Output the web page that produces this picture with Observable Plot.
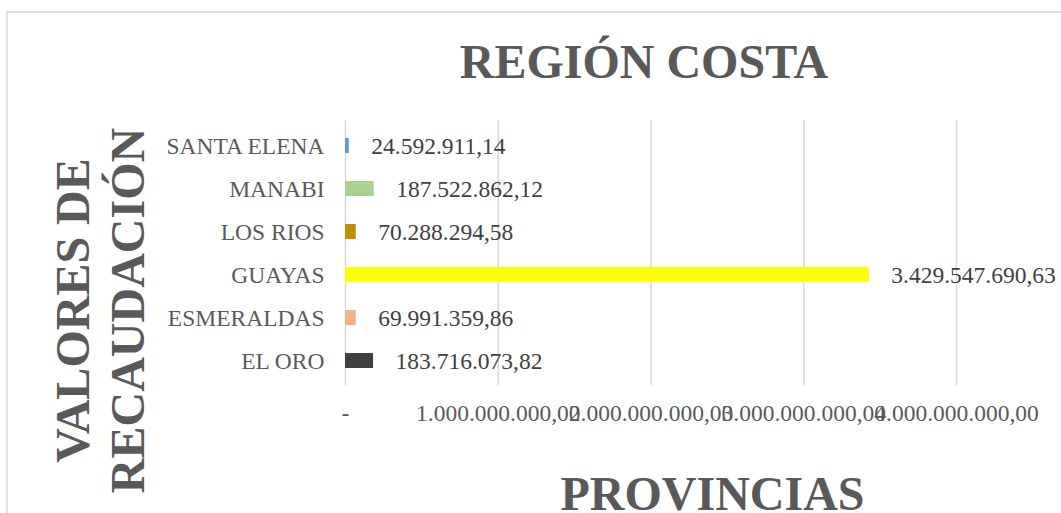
<!DOCTYPE html>
<html><head><meta charset="utf-8">
<script src="https://cdn.jsdelivr.net/npm/d3@7"></script>
<script src="https://cdn.jsdelivr.net/npm/@observablehq/plot@0.6"></script>
<style>
body{margin:0;background:#fff;}
#chart{position:relative;width:1061px;height:513px;overflow:hidden;}
</style>
</head><body><div id="chart"></div>
<script>
const provinces = ["SANTA ELENA", "MANABI", "LOS RIOS", "GUAYAS", "ESMERALDAS", "EL ORO"];
const values = [24592911.14, 187522862.12, 70288294.58, 3429547690.63, 69991359.86, 183716073.82];
const colors = ["#5B9BD5", "#A9D18E", "#BF8F00", "#FFFF00", "#F4B183", "#404040"];
const valueLabels = ["24.592.911,14", "187.522.862,12", "70.288.294,58", "3.429.547.690,63", "69.991.359,86", "183.716.073,82"];
const xTicks = [0, 1e9, 2e9, 3e9, 4e9];
const xTickLabels = ["-", "1.000.000.000,00", "2.000.000.000,00", "3.000.000.000,00", "4.000.000.000,00"];
const titleText = "REGIÓN COSTA";
const xTitleText = "PROVINCIAS";
const yTitleText = "VALORES DE\nRECAUDACIÓN";

const data = provinces.map((p, i) => ({p, v: values[i], c: colors[i], label: valueLabels[i]}));
const serif = "'Liberation Serif', 'Times New Roman', serif";

const chart = Plot.plot({
  width: 1061, height: 513,
  marginLeft: 345, marginRight: 105, marginTop: 120, marginBottom: 128,
  style: {fontFamily: serif, fontSize: "23.5px", color: "#595959", background: "transparent"},
  x: {domain: [0, 4e9], label: null},
  y: {domain: provinces, paddingInner: 0.66, paddingOuter: 0.35, label: null},
  color: {type: "identity"},
  marks: [
    Plot.ruleX(xTicks, {stroke: "#D9D9D9", strokeWidth: 1.5}),
    Plot.barX(data, {x: "v", y: "p", fill: "c"}),
    Plot.text(data, {x: "v", y: "p", text: "label", textAnchor: "start", dx: 22, fill: "#404040", fontSize: 23.5}),
    Plot.axisX({ticks: xTicks, tickFormat: (d) => xTickLabels[xTicks.indexOf(d)], tickSize: 0, tickPadding: 19, fontSize: 23.5, fill: "#595959"}),
    Plot.axisY({tickSize: 0, tickPadding: 21, fontSize: 23.5, fill: "#595959"}),
    Plot.text([titleText], {frameAnchor: "top", dx: -7, dy: -43, lineAnchor: "bottom", fontSize: 48, fontWeight: "bold", fill: "#595959"}),
    Plot.text([xTitleText], {frameAnchor: "bottom", dx: 61.5, dy: 124, lineAnchor: "bottom", fontSize: 48, fontWeight: "bold", fill: "#595959"}),
    Plot.text([yTitleText], {frameAnchor: "left", textAnchor: "middle", rotate: -90, dx: -247, dy: 57.5, lineHeight: 1.146, fontSize: 48, fontWeight: "bold", fill: "#595959"})
  ]
});
d3.select(chart).insert("rect", ":first-child")
  .attr("x", 7).attr("y", 12).attr("width", 2000).attr("height", 2000)
  .attr("fill", "none").attr("stroke", "#D9D9D9").attr("stroke-width", 1.5);
document.getElementById("chart").appendChild(chart);
</script>
</body></html>
